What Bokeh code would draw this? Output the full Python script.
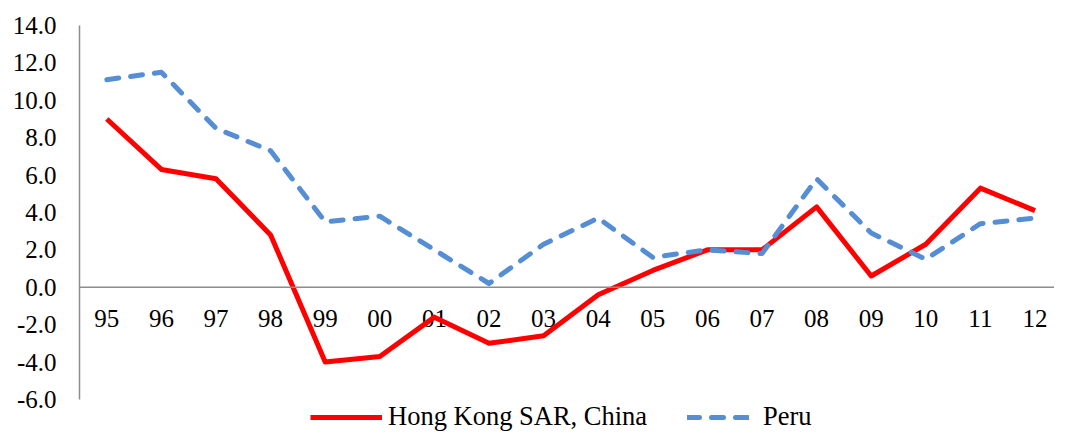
from bokeh.plotting import figure
from bokeh.models import Range1d, Span, Legend, LegendItem, FixedTicker, NumeralTickFormatter, ColumnDataSource
from bokeh.core.properties import value
from bokeh.embed import file_html
from bokeh.resources import INLINE

years = ["95", "96", "97", "98", "99", "00", "01", "02", "03", "04",
         "05", "06", "07", "08", "09", "10", "11", "12"]
hong_kong = [9.0, 6.3, 5.8, 2.8, -4.0, -3.7, -1.6, -3.0, -2.6, -0.4,
             0.9, 2.0, 2.0, 4.3, 0.6, 2.3, 5.3, 4.1]
peru = [11.1, 11.5, 8.5, 7.3, 3.5, 3.8, 2.0, 0.2, 2.3, 3.7,
        1.6, 2.0, 1.8, 5.8, 2.9, 1.5, 3.4, 3.7]
y_ticks = [-6, -4, -2, 0, 2, 4, 6, 8, 10, 12, 14]

FONT = "Times New Roman"
idx = list(range(len(years)))
src = ColumnDataSource(dict(x=idx, year=years, hk=hong_kong, pe=peru, zero=[0] * len(years)))

p = figure(width=1054, height=432, output_backend="svg", toolbar_location=None,
           x_range=Range1d(-0.5, 17.357), y_range=Range1d(-7.77, 14),
           x_axis_location=None, min_border_top=25, min_border_bottom=0,
           min_border_left=79, min_border_right=0)
p.outline_line_color = None
p.xgrid.visible = False
p.ygrid.visible = False
p.background_fill_color = "white"

ax = p.yaxis[0]
ax.ticker = FixedTicker(ticks=y_ticks)
ax.formatter = NumeralTickFormatter(format="0.0")
ax.bounds = (-6, 14)
ax.axis_line_color = "#8c8c8c"
ax.axis_line_width = 1.5
ax.major_tick_line_color = None
ax.minor_tick_line_color = None
ax.major_tick_out = 0
ax.major_tick_in = 0
ax.minor_tick_out = 0
ax.major_label_text_font = FONT
ax.major_label_text_font_size = "25px"
ax.major_label_text_color = "black"
ax.major_label_standoff = 23

p.add_layout(Span(location=0, dimension="width", line_color="#8c8c8c", line_width=1.5))

p.text(x="x", y="zero", text="year", source=src, text_font=value(FONT),
       text_font_size="25px", text_align="center", text_baseline="middle",
       y_offset=31, text_color="black")

r1 = p.line(x="x", y="hk", source=src, line_color="#ff0000", line_width=5, line_join="round")
r2 = p.line(x="x", y="pe", source=src, line_color="#558ed5", line_width=5,
            line_dash="12 12", line_cap="round", line_join="round")

common = dict(orientation="horizontal", glyph_height=20, padding=0, margin=0,
              border_line_color=None, background_fill_alpha=0,
              label_text_font=FONT, label_text_font_size="26.5px", label_text_color="black")
legend1 = Legend(items=[LegendItem(label="Hong Kong SAR, China", renderers=[r1])],
                 location=(231, 0), glyph_width=72, label_standoff=6, **common)
legend2 = Legend(items=[LegendItem(label="Peru", renderers=[r2])],
                 location=(608, 0), glyph_width=62, label_standoff=14, **common)
p.add_layout(legend1)
p.add_layout(legend2)

open("out.html", "w").write(file_html(p, INLINE))
